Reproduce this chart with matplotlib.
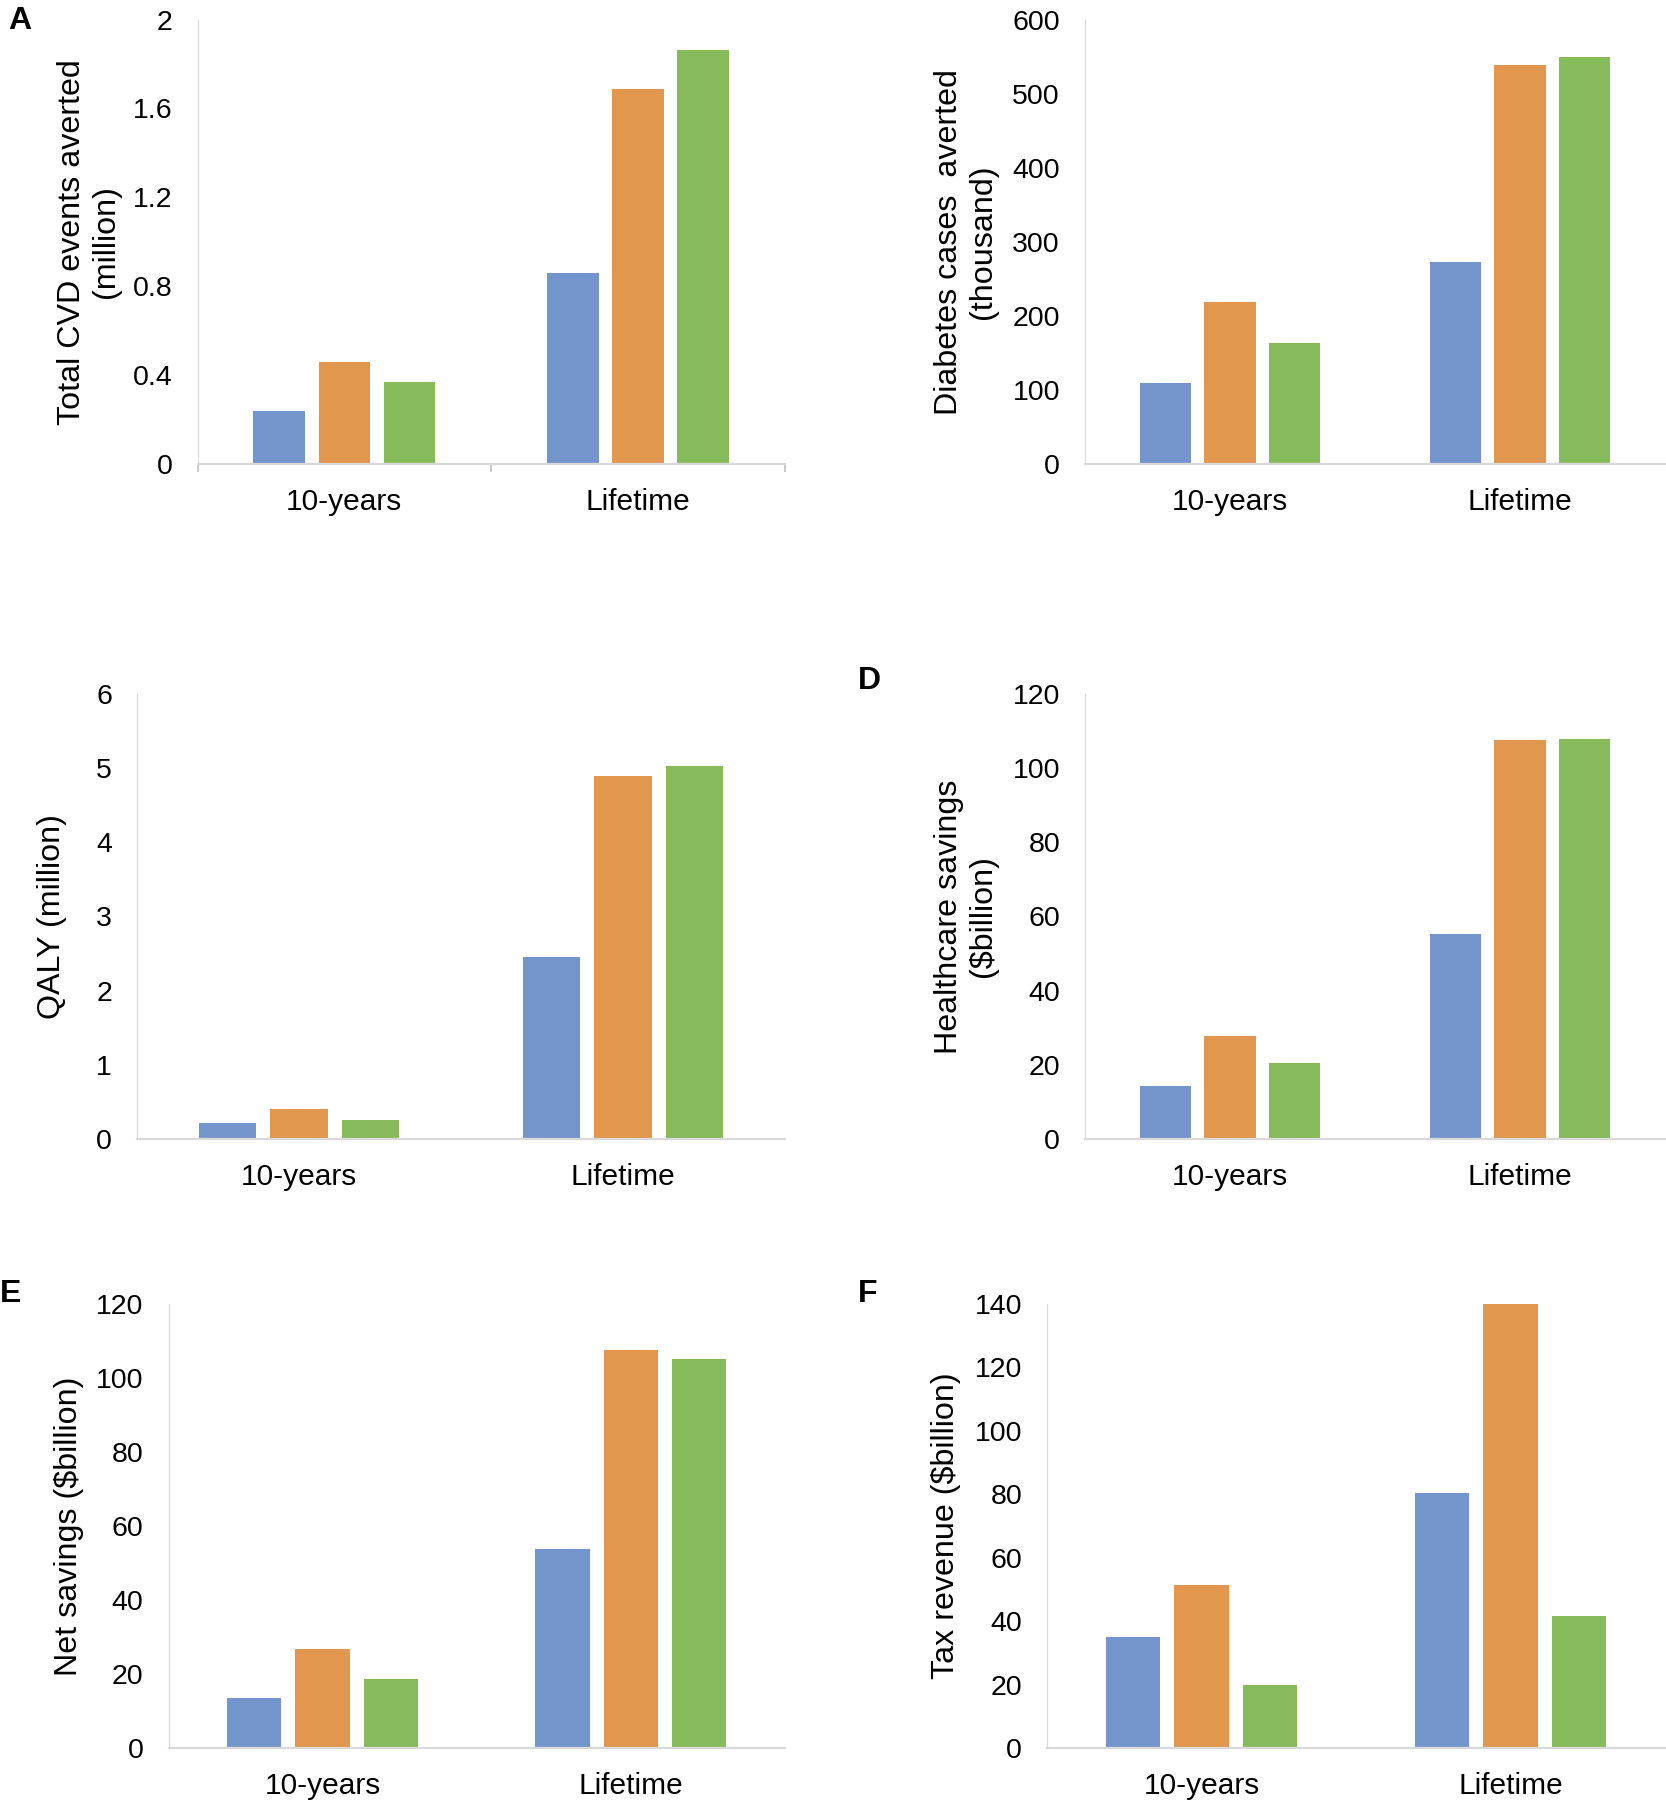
import numpy as np
import matplotlib.pyplot as plt

plt.rcParams['font.family'] = ['Liberation Sans', 'DejaVu Sans']

# data
periods = ['10-years', 'Lifetime']
colors = ['#7395CB', '#E1974D', '#86BA5B']

cvd_averted = [[0.237, 0.858], [0.458, 1.689], [0.367, 1.862]]        # million
diabetes_averted = [[110, 272], [218, 538], [163, 549]]              # thousand
qaly = [[0.21, 2.46], [0.41, 4.90], [0.26, 5.03]]                    # million
healthcare_savings = [[14.2, 55.2], [27.7, 107.5], [20.4, 108.0]]    # $billion
net_savings = [[13.6, 53.7], [26.7, 107.5], [18.6, 105.2]]          # $billion
tax_revenue = [[35.0, 80.3], [51.4, 140.0], [19.8, 41.6]]           # $billion

W, H = 1666, 1800
fig = plt.figure(figsize=(W / 100, H / 100), dpi=100)


def make_ax(x0, x1, ytop, y0):
    return fig.add_axes([x0 / W, 1 - y0 / H, (x1 - x0) / W, (y0 - ytop) / H])


def draw_panel(ax, series, ymax, step, ylabel, label_x, xticks=False):
    x = np.arange(len(periods))
    offsets = [-0.222, 0, 0.222]
    for vals, off, c in zip(series, offsets, colors):
        ax.bar(x + off, vals, width=0.176, color=c, zorder=2)
    ax.set_xlim(-0.5, 1.5)
    ax.set_ylim(0, ymax)
    ticks = np.arange(0, ymax + step / 2, step)
    ax.set_yticks(ticks)
    ax.set_yticklabels(['{:g}'.format(round(t, 2)) for t in ticks])
    ax.set_xticks(x)
    ax.set_xticklabels(periods)
    for s in ['top', 'right']:
        ax.spines[s].set_visible(False)
    ax.spines['left'].set_color('#d9d9d9')
    ax.spines['left'].set_linewidth(0.9)
    ax.spines['bottom'].set_color('#d9d9d9')
    ax.spines['bottom'].set_linewidth(1.6)
    ax.tick_params(axis='y', length=0, pad=18, labelsize=20.5)
    ax.tick_params(axis='x', length=0, pad=17, labelsize=21.5)
    if xticks:
        ax.set_xticks([-0.5, 0.5, 1.5], minor=True)
        ax.tick_params(axis='x', which='minor', length=6, width=1.2, color='#bfbfbf')
    ax.set_ylabel(ylabel, fontsize=23.2, va='center', ha='center', linespacing=1.2)
    pos = ax.get_position()
    ax.yaxis.set_label_coords(label_x / W, pos.y0 + pos.height / 2, transform=fig.transFigure)


axA = make_ax(197.5, 785, 19.5, 464)
draw_panel(axA, cvd_averted, 2, 0.4, 'Total CVD events averted\n(million)', 89, xticks=True)

axB = make_ax(1085, 1665, 19.5, 464)
draw_panel(axB, diabetes_averted, 600, 100, 'Diabetes cases  averted\n(thousand)', 966)

axC = make_ax(137, 785, 694, 1139)
draw_panel(axC, qaly, 6, 1, 'QALY (million)', 52)

axD = make_ax(1085, 1665, 694, 1139)
draw_panel(axD, healthcare_savings, 120, 20, 'Healthcare savings\n($billion)', 966)

axE = make_ax(168.5, 785, 1304, 1748)
draw_panel(axE, net_savings, 120, 20, 'Net savings ($billion)', 69)

axF = make_ax(1047, 1665, 1304, 1748)
draw_panel(axF, tax_revenue, 140, 20, 'Tax revenue ($billion)', 946)

# panel letters
for letter, px, py in [('A', 8, 29), ('D', 858, 689), ('E', 0, 1302), ('F', 858, 1302)]:
    fig.text(px / W, 1 - py / H, letter, fontsize=23, fontweight='bold',
             ha='left', va='baseline')

fig.savefig('out.png', dpi=100)
